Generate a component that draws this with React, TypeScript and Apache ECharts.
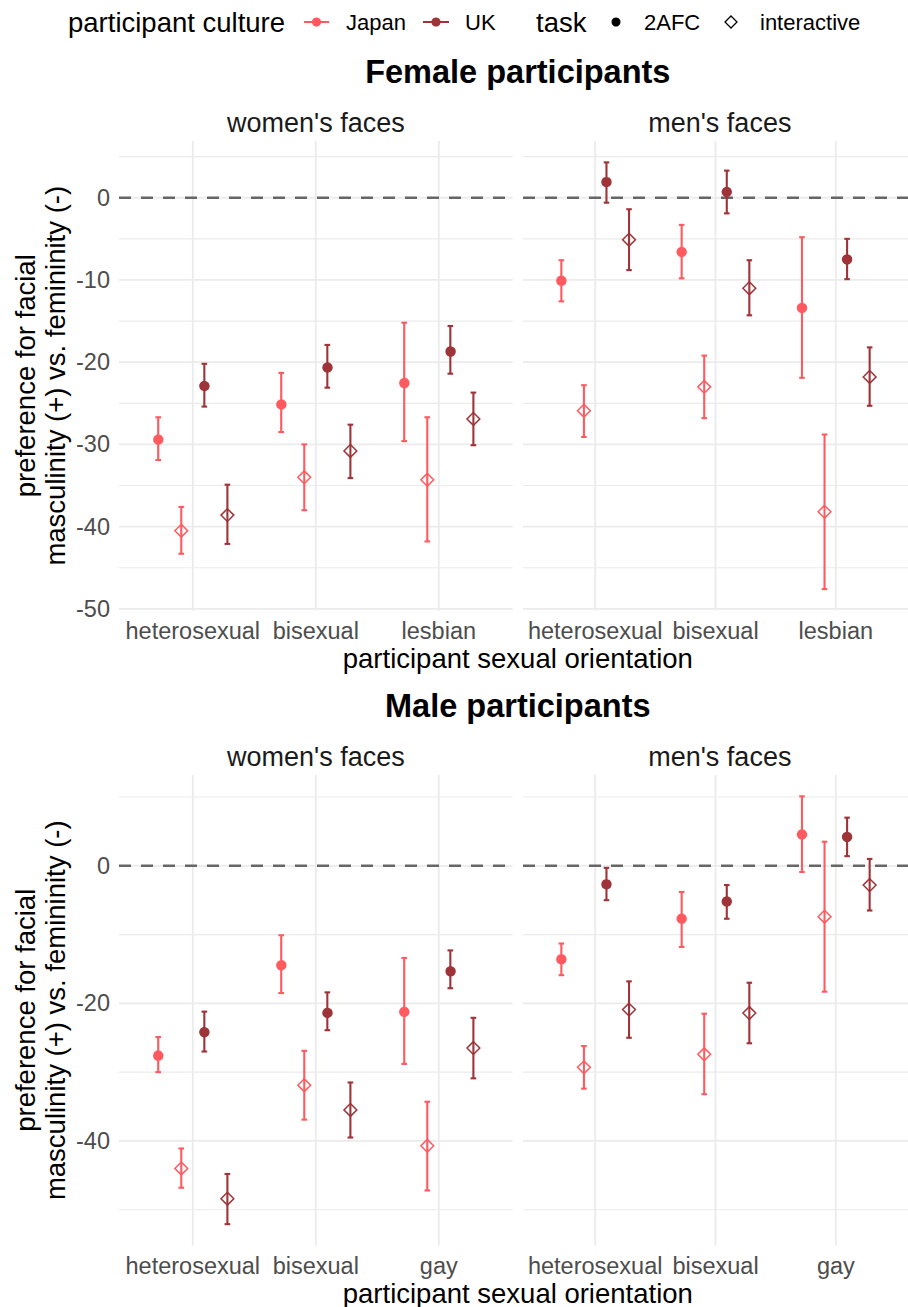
import React, { useEffect, useRef } from "react";
import * as echarts from "echarts";

// ---------- data ----------
const groups = ["Japan 2AFC", "Japan interactive", "UK 2AFC", "UK interactive"];
const groupCulture = [0, 0, 1, 1];
const groupTask = [0, 1, 0, 1];
const dodgeOffsets = [-0.28125, -0.09375, 0.09375, 0.28125];

const femaleCategories = ["heterosexual", "bisexual", "lesbian"];
const maleCategories = ["heterosexual", "bisexual", "gay"];

// Female participants — women's faces (rows: Japan 2AFC, Japan interactive, UK 2AFC, UK interactive)
const fwMean = [[-29.3, -25.0, -22.4], [-40.5, -34.0, -34.3], [-22.8, -20.5, -18.5], [-38.6, -30.8, -26.9]];
const fwLo = [[-31.9, -28.5, -29.6], [-43.3, -38.0, -41.8], [-25.4, -23.1, -21.4], [-42.1, -34.1, -30.1]];
const fwHi = [[-26.7, -21.3, -15.2], [-37.6, -30.0, -26.7], [-20.2, -17.9, -15.6], [-34.9, -27.6, -23.7]];

// Female participants — men's faces
const fmMean = [[-10.1, -6.6, -13.4], [-25.9, -23.0, -38.2], [1.9, 0.7, -7.5], [-5.1, -11.0, -21.8]];
const fmLo = [[-12.6, -9.8, -21.9], [-29.1, -26.8, -47.6], [-0.6, -1.9, -9.9], [-8.8, -14.3, -25.3]];
const fmHi = [[-7.6, -3.3, -4.8], [-22.8, -19.2, -28.8], [4.3, 3.3, -5.0], [-1.4, -7.6, -18.2]];

// Male participants — women's faces
const mwMean = [[-27.5, -14.3, -21.1], [-44.0, -31.9, -40.7], [-24.1, -21.2, -15.1], [-48.4, -35.5, -26.5]];
const mwLo = [[-30.0, -18.5, -28.8], [-46.8, -36.9, -47.2], [-27.0, -23.9, -17.8], [-52.1, -39.5, -30.9]];
const mwHi = [[-24.9, -10.1, -13.4], [-41.1, -26.9, -34.3], [-21.2, -18.4, -12.3], [-44.8, -31.5, -22.1]];

// Male participants — men's faces
const mmMean = [[-13.6, -7.7, 4.55], [-29.3, -27.4, -7.4], [-2.7, -5.2, 4.2], [-20.9, -21.4, -2.8]];
const mmLo = [[-15.9, -11.8, -0.9], [-32.4, -33.2, -18.3], [-5.0, -7.7, 1.4], [-25.0, -25.8, -6.5]];
const mmHi = [[-11.3, -3.8, 10.1], [-26.2, -21.5, 3.5], [-0.3, -2.8, 7.0], [-16.8, -17.0, 1.0]];

const femaleYLabels = [-50, -40, -30, -20, -10, 0];
const femaleYMinor = [-45, -35, -25, -15, -5, 5];
const maleYLabels = [-40, -20, 0];
const maleYMajor = [-40, -20, 0];
const maleYMinor = [-50, -30, -10, 10];

// ---------- style / layout ----------
const FONT = '"Liberation Sans", Arial, Helvetica, sans-serif';
const JAPAN = "#FF5A5F";
const UK = "#9E3338";
const cultureColors = [JAPAN, UK];
const GRID_COLOR = "#EBEBEB";

const colLeft = [119, 523];
const panelWidth = 393.6;
const rowTop = [141, 775];
const rowHeight = [469.5, 470.5];
const rowYMin = [-50.2, -55.2];
const rowYMax = [6.9, 13.2];

const panels = [
  { row: 0, col: 0, cats: femaleCategories, mean: fwMean, lo: fwLo, hi: fwHi },
  { row: 0, col: 1, cats: femaleCategories, mean: fmMean, lo: fmLo, hi: fmHi },
  { row: 1, col: 0, cats: maleCategories, mean: mwMean, lo: mwLo, hi: mwHi },
  { row: 1, col: 1, cats: maleCategories, mean: mmMean, lo: mmLo, hi: mmHi },
];

function gridRenderer(params: any, api: any) {
  const cs = params.coordSys;
  const dir = api.value(0);
  const v = api.value(1);
  const kind = api.value(2);
  if (dir === 0) {
    const y = api.coord([1, v])[1];
    if (kind === 2) {
      return {
        type: "line",
        shape: { x1: cs.x, y1: y, x2: cs.x + cs.width, y2: y },
        style: { stroke: "#666666", lineWidth: 2.6, lineDash: [12, 10] },
      };
    }
    return {
      type: "line",
      shape: { x1: cs.x, y1: y, x2: cs.x + cs.width, y2: y },
      style: { stroke: GRID_COLOR, lineWidth: kind === 1 ? 1.8 : 1.2 },
    };
  }
  const x = api.coord([v, 0])[0];
  return {
    type: "line",
    shape: { x1: x, y1: cs.y, x2: x, y2: cs.y + cs.height },
    style: { stroke: GRID_COLOR, lineWidth: 1.8 },
  };
}

function makePointRenderer(color: string, task: number) {
  return (params: any, api: any) => {
    const x = api.value(0);
    const m = api.value(1);
    const lo = api.value(2);
    const hi = api.value(3);
    const top = api.coord([x, hi]);
    const bot = api.coord([x, lo]);
    const mid = api.coord([x, m]);
    const capHalf = api.size([0.046, 0])[0] / 2;
    const ls = { stroke: color, lineWidth: 2.1 };
    const children: any[] = [
      { type: "line", shape: { x1: top[0], y1: top[1], x2: bot[0], y2: bot[1] }, style: ls },
      { type: "line", shape: { x1: top[0] - capHalf, y1: top[1], x2: top[0] + capHalf, y2: top[1] }, style: ls },
      { type: "line", shape: { x1: bot[0] - capHalf, y1: bot[1], x2: bot[0] + capHalf, y2: bot[1] }, style: ls },
    ];
    if (task === 0) {
      children.push({ type: "circle", shape: { cx: mid[0], cy: mid[1], r: 5.2 }, style: { fill: color } });
    } else {
      const d = 6.4;
      children.push({
        type: "polygon",
        shape: { points: [[mid[0], mid[1] - d], [mid[0] + d, mid[1]], [mid[0], mid[1] + d], [mid[0] - d, mid[1]]] },
        style: { fill: "none", stroke: color, lineWidth: 1.5 },
      });
    }
    return { type: "group", children };
  };
}

function buildOption() {
  const grid: any[] = [];
  const xAxis: any[] = [];
  const yAxis: any[] = [];
  const series: any[] = [];

  panels.forEach((p, i) => {
    grid.push({ left: colLeft[p.col], top: rowTop[p.row], width: panelWidth, height: rowHeight[p.row] });
    const cats = p.cats;
    xAxis.push({
      type: "value",
      gridIndex: i,
      min: 0.4,
      max: 3.6,
      axisLine: { show: false },
      axisTick: { show: false },
      splitLine: { show: false },
      axisLabel: {
        customValues: [1, 2, 3],
        margin: 8,
        color: "#4D4D4D",
        fontSize: 23.5,
        fontFamily: FONT,
        formatter: (v: number) => {
          const r = Math.round(v);
          if (Math.abs(v - r) > 1e-6) return "";
          return cats[r - 1] ?? "";
        },
      },
    });
    const labels = p.row === 0 ? femaleYLabels : maleYLabels;
    yAxis.push({
      type: "value",
      gridIndex: i,
      min: rowYMin[p.row],
      max: rowYMax[p.row],
      axisLine: { show: false },
      axisTick: { show: false },
      splitLine: { show: false },
      axisLabel: {
        show: p.col === 0,
        customValues: labels,
        margin: 9,
        color: "#4D4D4D",
        fontSize: 23.5,
        fontFamily: FONT,
        formatter: (v: number) => (labels.some((l) => Math.abs(l - v) < 1e-6) ? String(Math.round(v)) : ""),
      },
    });

    // gridlines + zero reference line
    const gridData: number[][] = [];
    const major = p.row === 0 ? femaleYLabels : maleYMajor;
    const minor = p.row === 0 ? femaleYMinor : maleYMinor;
    minor.forEach((v) => gridData.push([0, v, 0]));
    major.forEach((v) => gridData.push([0, v, 1]));
    cats.forEach((_, ci) => gridData.push([1, ci + 1, 1]));
    gridData.push([0, 0, 2]);
    series.push({
      type: "custom",
      name: "grid" + i,
      xAxisIndex: i,
      yAxisIndex: i,
      z: 1,
      silent: true,
      renderItem: gridRenderer,
      data: gridData,
    });

    groups.forEach((g, gi) => {
      const data = cats.map((_, ci) => [ci + 1 + dodgeOffsets[gi], p.mean[gi][ci], p.lo[gi][ci], p.hi[gi][ci]]);
      series.push({
        type: "custom",
        name: g,
        xAxisIndex: i,
        yAxisIndex: i,
        z: 3,
        silent: true,
        encode: { x: 0, y: [1, 2, 3] },
        renderItem: makePointRenderer(cultureColors[groupCulture[gi]], groupTask[gi]),
        data,
      });
    });
  });

  const txt = (x: number, y: number, text: string, size: number, opts: any = {}) => ({
    type: "text",
    x,
    y,
    silent: true,
    rotation: opts.rotation || 0,
    style: {
      text,
      fill: opts.color || "#000000",
      fontSize: size,
      fontFamily: FONT,
      fontWeight: opts.bold ? "bold" : "normal",
      textAlign: opts.align || "center",
      textVerticalAlign: "middle",
    },
  });

  const LY = 22;
  const graphic: any[] = [
    // legend
    txt(68, LY, "participant culture", 27.5, { align: "left" }),
    { type: "line", shape: { x1: 304, y1: LY, x2: 329, y2: LY }, style: { stroke: JAPAN, lineWidth: 2 } },
    { type: "circle", shape: { cx: 316.5, cy: LY, r: 4.6 }, style: { fill: JAPAN } },
    txt(346, LY, "Japan", 22, { align: "left" }),
    { type: "line", shape: { x1: 423, y1: LY, x2: 449, y2: LY }, style: { stroke: UK, lineWidth: 2 } },
    { type: "circle", shape: { cx: 436, cy: LY, r: 4.6 }, style: { fill: UK } },
    txt(465, LY, "UK", 22, { align: "left" }),
    txt(536, LY, "task", 27.5, { align: "left" }),
    { type: "circle", shape: { cx: 616, cy: LY, r: 4.5 }, style: { fill: "#000000" } },
    txt(644, LY, "2AFC", 22, { align: "left" }),
    {
      type: "polygon",
      shape: { points: [[731, LY - 6], [737, LY], [731, LY + 6], [725, LY]] },
      style: { fill: "none", stroke: "#000000", lineWidth: 1.3 },
    },
    txt(760, LY, "interactive", 22, { align: "left" }),
  ];

  const titles = ["Female participants", "Male participants"];
  const titleY = [72, 706];
  const stripY = [123, 757];
  const xTitleY = [658, 1293];
  const faceTypes = ["women's faces", "men's faces"];
  const centerX = (colLeft[0] + colLeft[1] + panelWidth) / 2;
  [0, 1].forEach((r) => {
    graphic.push(txt(centerX, titleY[r], titles[r], 32.5, { bold: true }));
    faceTypes.forEach((f, c) => graphic.push(txt(colLeft[c] + panelWidth / 2, stripY[r], f, 27, { color: "#1A1A1A" })));
    graphic.push(txt(centerX, xTitleY[r], "participant sexual orientation", 27.5));
    const cy = rowTop[r] + rowHeight[r] / 2;
    graphic.push(txt(25, cy, "preference for facial", 27.5, { rotation: Math.PI / 2 }));
    graphic.push(txt(55, cy, "masculinity (+) vs. femininity (-)", 27.5, { rotation: Math.PI / 2 }));
  });

  return {
    animation: false,
    backgroundColor: "#ffffff",
    textStyle: { fontFamily: FONT },
    grid,
    xAxis,
    yAxis,
    series,
    graphic,
  };
}

export default function App() {
  const ref = useRef<HTMLDivElement>(null);
  useEffect(() => {
    if (!ref.current) return;
    const chart = echarts.init(ref.current, undefined, { renderer: "svg" });
    chart.setOption(buildOption() as any);
    return () => chart.dispose();
  }, []);
  return (
    <div
      ref={ref}
      style={{ position: "absolute", left: 0, top: 0, width: 908, height: 1307, background: "#ffffff" }}
    />
  );
}
